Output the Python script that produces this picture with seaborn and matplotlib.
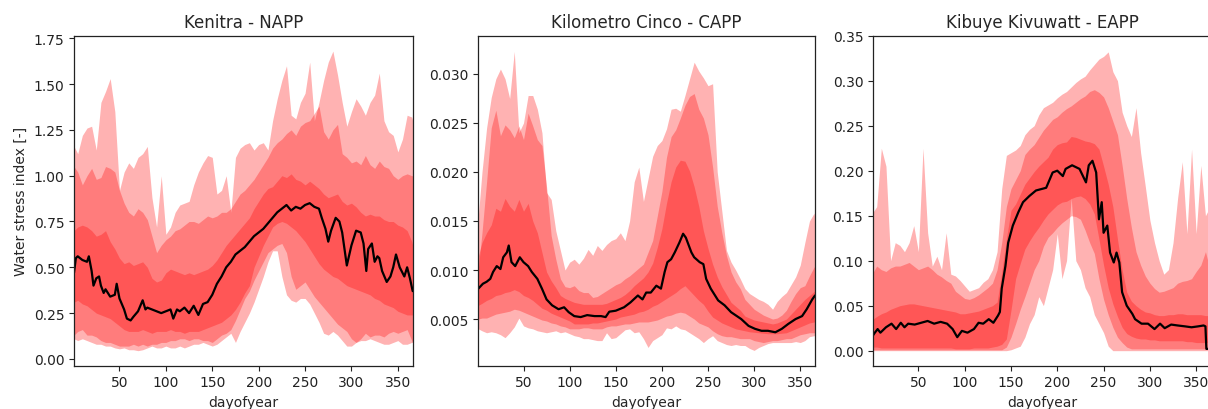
import matplotlib
matplotlib.use("Agg")
import matplotlib.pyplot as plt
import seaborn as sns
from matplotlib.ticker import FormatStrFormatter

# ---------------- data ----------------
band_days = [1] + list(range(5, 366, 5)) + [366]

# Kenitra - NAPP
kenitra_outer_high = [1.16,1.12,1.22,1.26,1.27,1.14,1.40,1.46,1.53,1.35,0.92,1.02,1.07,1.04,1.10,
                      1.12,1.16,0.88,0.72,1.00,0.68,0.72,0.80,0.84,0.85,0.86,0.95,1.02,1.07,1.11,
                      1.10,0.90,0.92,1.00,0.80,1.10,1.15,1.17,1.18,1.14,1.17,1.18,1.14,1.30,1.42,
                      1.52,1.60,1.33,1.31,1.40,1.45,1.62,1.30,1.40,1.52,1.62,1.68,1.55,1.40,1.27,
                      1.35,1.42,1.38,1.33,1.40,1.44,1.56,1.30,1.24,1.22,1.13,1.20,1.33,1.32,1.30]
kenitra_mid_high = [1.05,1.02,0.95,1.00,1.04,0.98,0.99,1.05,1.04,1.02,0.92,0.85,0.80,0.78,0.82,
                    0.80,0.76,0.67,0.58,0.62,0.65,0.67,0.70,0.71,0.73,0.75,0.75,0.74,0.76,0.78,
                    0.77,0.78,0.80,0.80,0.82,0.86,0.90,0.92,0.95,0.98,1.02,1.06,1.10,1.15,1.18,
                    1.20,1.23,1.25,1.22,1.27,1.29,1.30,1.34,1.38,1.24,1.20,1.25,1.28,1.12,1.10,
                    1.07,1.08,1.06,1.11,1.06,1.04,1.08,1.05,1.04,1.00,0.98,1.00,1.01,1.00,1.00]
kenitra_inner_high = [0.70,0.72,0.73,0.72,0.70,0.67,0.68,0.70,0.64,0.60,0.55,0.52,0.53,0.51,0.52,
                      0.53,0.50,0.44,0.42,0.43,0.47,0.49,0.48,0.47,0.46,0.47,0.46,0.47,0.48,0.49,
                      0.51,0.54,0.58,0.62,0.65,0.68,0.71,0.74,0.77,0.82,0.86,0.90,0.93,0.94,0.97,
                      1.00,0.99,1.01,0.98,0.97,0.95,0.97,0.95,0.93,0.90,0.88,0.89,0.90,0.86,0.84,
                      0.85,0.83,0.80,0.78,0.79,0.78,0.78,0.76,0.75,0.75,0.73,0.72,0.70,0.64,0.62]
kenitra_inner_low = [0.31,0.32,0.30,0.29,0.27,0.25,0.24,0.23,0.22,0.20,0.18,0.16,0.15,0.15,0.15,
                     0.16,0.15,0.14,0.15,0.15,0.15,0.16,0.15,0.15,0.14,0.15,0.15,0.15,0.16,0.17,
                     0.18,0.19,0.20,0.22,0.24,0.27,0.31,0.36,0.40,0.50,0.56,0.62,0.67,0.72,0.74,
                     0.75,0.74,0.72,0.70,0.67,0.64,0.60,0.56,0.52,0.49,0.47,0.45,0.44,0.42,0.40,
                     0.39,0.38,0.37,0.36,0.35,0.33,0.32,0.30,0.29,0.28,0.26,0.25,0.24,0.24,0.24]
kenitra_mid_low = [0.13,0.15,0.16,0.13,0.13,0.12,0.10,0.09,0.09,0.08,0.07,0.07,0.07,0.08,0.07,
                   0.08,0.07,0.08,0.08,0.09,0.09,0.10,0.10,0.11,0.11,0.10,0.11,0.11,0.10,0.10,
                   0.09,0.11,0.13,0.14,0.16,0.21,0.27,0.33,0.37,0.43,0.48,0.53,0.58,0.60,0.62,
                   0.63,0.58,0.45,0.38,0.40,0.42,0.38,0.34,0.31,0.28,0.25,0.22,0.19,0.17,0.15,
                   0.11,0.09,0.11,0.14,0.12,0.13,0.13,0.12,0.14,0.15,0.14,0.15,0.16,0.10,0.09]
kenitra_outer_low = [0.11,0.10,0.11,0.10,0.09,0.08,0.08,0.07,0.07,0.06,0.055,0.06,0.05,0.05,0.045,
                     0.05,0.06,0.07,0.06,0.06,0.07,0.06,0.06,0.07,0.06,0.07,0.08,0.08,0.09,0.08,
                     0.07,0.08,0.10,0.12,0.14,0.09,0.15,0.20,0.25,0.31,0.38,0.45,0.53,0.59,0.59,
                     0.45,0.35,0.32,0.31,0.33,0.33,0.30,0.25,0.20,0.14,0.13,0.15,0.13,0.10,0.07,
                     0.07,0.09,0.10,0.10,0.11,0.10,0.09,0.08,0.08,0.09,0.10,0.08,0.08,0.09,0.09]
kenitra_median_days = [1,3,5,10,15,17,20,22,25,28,30,33,35,40,45,47,50,55,58,62,
                       65,70,75,78,80,85,90,95,100,105,108,112,115,120,125,130,135,140,145,150,
                       155,160,165,170,175,180,185,190,195,200,205,210,215,220,225,230,235,240,245,250,
                       255,260,265,268,272,275,278,283,287,290,295,300,305,310,313,316,318,322,325,328,
                       330,333,338,342,345,348,352,357,360,363,366]
kenitra_median = [0.47,0.55,0.56,0.54,0.53,0.56,0.48,0.40,0.44,0.45,0.40,0.36,0.38,0.34,0.35,0.41,0.33,0.27,0.22,0.21,
                  0.23,0.26,0.32,0.27,0.28,0.27,0.26,0.25,0.26,0.27,0.22,0.27,0.26,0.28,0.25,0.29,0.24,0.30,0.31,0.35,
                  0.41,0.45,0.50,0.53,0.57,0.59,0.61,0.64,0.67,0.69,0.71,0.74,0.77,0.80,0.82,0.84,0.81,0.83,0.82,0.84,
                  0.85,0.83,0.82,0.77,0.71,0.64,0.70,0.77,0.75,0.69,0.51,0.62,0.70,0.69,0.63,0.48,0.60,0.63,0.53,0.56,
                  0.55,0.48,0.42,0.45,0.50,0.57,0.50,0.45,0.50,0.44,0.37]
kenitra_yticks = [0.00,0.25,0.50,0.75,1.00,1.25,1.50,1.75]

# Kilometro Cinco - CAPP
cinco_outer_high = [0.0155,0.0200,0.0245,0.0276,0.0295,0.0305,0.0295,0.0275,0.0323,0.0240,0.0250,0.0278,0.0278,0.0264,0.0240,
                    0.0179,0.0172,0.0140,0.0120,0.0100,0.0108,0.0111,0.0106,0.0112,0.0121,0.0115,0.0125,0.0120,0.0126,0.0130,
                    0.0132,0.0138,0.0130,0.0150,0.0190,0.0205,0.0170,0.0193,0.0216,0.0227,0.0232,0.0244,0.0264,0.0265,0.0262,
                    0.0278,0.0295,0.0312,0.0303,0.0296,0.0288,0.0290,0.0200,0.0160,0.0120,0.0108,0.0100,0.0091,0.0081,0.0076,
                    0.0073,0.0070,0.0068,0.0065,0.0060,0.0068,0.0073,0.0077,0.0085,0.0093,0.0105,0.0128,0.0150,0.0158,0.0152]
cinco_mid_high = [0.0101,0.0138,0.0190,0.0245,0.0263,0.0237,0.0248,0.0243,0.0235,0.0247,0.0233,0.0260,0.0247,0.0233,0.0227,
                  0.0185,0.0135,0.0111,0.0091,0.0083,0.0082,0.0084,0.0079,0.0077,0.0077,0.0072,0.0073,0.0076,0.0079,0.0082,
                  0.0085,0.0087,0.0091,0.0094,0.0098,0.0102,0.0106,0.0118,0.0130,0.0155,0.0180,0.0215,0.0236,0.0243,0.0255,
                  0.0268,0.0277,0.0280,0.0264,0.0255,0.0238,0.0205,0.0165,0.0138,0.0115,0.0098,0.0088,0.0081,0.0070,0.0065,
                  0.0060,0.0057,0.0054,0.0052,0.0050,0.0051,0.0054,0.0059,0.0068,0.0076,0.0082,0.0084,0.0094,0.0103,0.0104]
cinco_inner_high = [0.0114,0.0128,0.0138,0.0146,0.0163,0.0160,0.0173,0.0165,0.0160,0.0172,0.0160,0.0168,0.0150,0.0138,0.0118,
                    0.0098,0.0089,0.0082,0.0074,0.0071,0.0069,0.0067,0.0066,0.0065,0.0065,0.0065,0.0065,0.0065,0.0066,0.0068,
                    0.0070,0.0072,0.0075,0.0079,0.0084,0.0088,0.0092,0.0098,0.0107,0.0123,0.0142,0.0168,0.0190,0.0205,0.0212,
                    0.0211,0.0201,0.0185,0.0165,0.0140,0.0122,0.0106,0.0093,0.0083,0.0075,0.0067,0.0063,0.0059,0.0053,0.0051,
                    0.0049,0.0048,0.0047,0.0046,0.0045,0.0046,0.0048,0.0050,0.0055,0.0060,0.0065,0.0070,0.0074,0.0078,0.0079]
cinco_inner_low = [0.0064,0.0066,0.0069,0.0071,0.0074,0.0075,0.0077,0.0078,0.0080,0.0078,0.0074,0.0072,0.0069,0.0065,0.0061,
                   0.0059,0.0056,0.0054,0.0052,0.0050,0.0048,0.0045,0.0045,0.0045,0.0045,0.0046,0.0046,0.0047,0.0048,0.0049,
                   0.0050,0.0052,0.0053,0.0054,0.0055,0.0057,0.0058,0.0060,0.0063,0.0065,0.0068,0.0071,0.0074,0.0077,0.0081,
                   0.0084,0.0079,0.0074,0.0069,0.0065,0.0058,0.0052,0.0049,0.0046,0.0044,0.0042,0.0040,0.0039,0.0038,0.0037,
                   0.00365,0.0036,0.00355,0.0035,0.0035,0.0035,0.00355,0.0036,0.0038,0.0040,0.0042,0.0044,0.0046,0.0047,0.0047]
cinco_mid_low = [0.0050,0.0051,0.0051,0.0053,0.0055,0.0056,0.0057,0.0058,0.0060,0.0059,0.0057,0.0055,0.0053,0.0051,0.0049,
                 0.0048,0.0046,0.0045,0.0043,0.0042,0.0040,0.0040,0.0040,0.0041,0.0041,0.0040,0.0040,0.0040,0.0042,0.0043,
                 0.0043,0.0044,0.0045,0.0045,0.0046,0.0047,0.0047,0.0047,0.0048,0.0049,0.0051,0.0053,0.0054,0.0056,0.0057,
                 0.0056,0.0053,0.0050,0.0046,0.0044,0.0042,0.0038,0.0035,0.0033,0.0032,0.0032,0.0031,0.0030,0.0030,0.0030,
                 0.0028,0.0027,0.0026,0.0027,0.0028,0.0028,0.0029,0.0030,0.0030,0.0032,0.0034,0.0035,0.0036,0.0036,0.0036]
cinco_outer_low = [0.0040,0.0038,0.0036,0.0037,0.0036,0.0034,0.0031,0.0036,0.0042,0.0051,0.0043,0.0041,0.0040,0.0038,0.0037,
                   0.0036,0.0037,0.0038,0.0036,0.0037,0.0035,0.0033,0.0032,0.0030,0.0030,0.0029,0.0028,0.0028,0.0036,0.0030,
                   0.0031,0.0035,0.0039,0.0040,0.0036,0.0037,0.0030,0.0021,0.0028,0.0031,0.0034,0.0041,0.0040,0.0043,0.0040,
                   0.0039,0.0036,0.0033,0.0030,0.0026,0.0030,0.0033,0.0028,0.0026,0.0024,0.0023,0.0024,0.0023,0.0023,0.0020,
                   0.0018,0.0021,0.0023,0.0025,0.0026,0.0026,0.0026,0.0026,0.0026,0.0027,0.0026,0.0028,0.0032,0.0033,0.0033]
cinco_median_days = [1,6,10,14,17,21,25,28,32,34,37,41,46,50,55,59,65,70,75,81,
                     88,94,99,105,112,119,127,134,139,143,150,159,166,174,179,183,188,194,199,203,
                     206,210,214,219,223,226,232,235,241,245,248,253,261,268,275,286,294,301,308,315,
                     323,330,337,345,352,357,363,366]
cinco_median = [0.0081,0.0086,0.0088,0.0091,0.0098,0.0104,0.0101,0.0113,0.0118,0.0125,
                0.0108,0.0104,0.0113,0.0108,0.0104,0.0098,0.0091,0.0081,0.0070,0.0064,
                0.0060,0.0062,0.0057,0.0053,0.0052,0.0054,0.0053,0.0053,0.0052,0.00575,
                0.00585,0.0062,0.0067,0.0074,0.0070,0.0077,0.0077,0.0084,0.0081,0.0098,
                0.0108,0.0111,0.0118,0.0128,0.0137,0.0133,0.0118,0.0113,0.0108,0.0106,
                0.0091,0.0081,0.0069,0.0064,0.0057,0.0050,0.0043,0.0040,0.0038,0.0038,
                0.00365,0.0040,0.0045,0.0050,0.0053,0.0060,0.0070,0.0074]
cinco_yticks = [0.005,0.010,0.015,0.020,0.025,0.030]

# Kibuye Kivuwatt - EAPP
kibuye_outer_high = [0.154,0.160,0.225,0.205,0.100,0.120,0.117,0.110,0.120,0.139,0.110,0.225,0.131,0.094,0.105,
                     0.090,0.131,0.085,0.083,0.078,0.072,0.066,0.068,0.070,0.076,0.080,0.090,0.110,0.180,0.217,
                     0.220,0.223,0.228,0.240,0.246,0.250,0.262,0.270,0.273,0.276,0.281,0.285,0.288,0.293,0.298,
                     0.302,0.305,0.312,0.318,0.324,0.327,0.332,0.310,0.300,0.265,0.250,0.238,0.270,0.220,0.183,
                     0.145,0.120,0.100,0.085,0.090,0.120,0.170,0.210,0.130,0.224,0.130,0.206,0.150,0.160,0.160]
kibuye_mid_high = [0.087,0.094,0.090,0.088,0.092,0.094,0.094,0.096,0.098,0.094,0.090,0.092,0.094,0.090,0.085,
                   0.082,0.078,0.075,0.066,0.062,0.058,0.057,0.059,0.062,0.066,0.070,0.075,0.090,0.120,0.160,
                   0.180,0.190,0.200,0.218,0.224,0.229,0.237,0.245,0.251,0.257,0.260,0.265,0.269,0.272,0.276,
                   0.280,0.283,0.288,0.290,0.287,0.282,0.270,0.255,0.240,0.206,0.169,0.137,0.110,0.095,0.083,
                   0.075,0.069,0.065,0.066,0.068,0.070,0.075,0.077,0.078,0.080,0.088,0.095,0.110,0.090,0.087]
kibuye_inner_high = [0.035,0.038,0.041,0.043,0.046,0.048,0.050,0.051,0.052,0.052,0.051,0.050,0.049,0.048,0.047,
                     0.046,0.045,0.044,0.043,0.041,0.041,0.042,0.043,0.044,0.046,0.048,0.050,0.054,0.087,0.124,
                     0.156,0.163,0.174,0.185,0.192,0.199,0.205,0.210,0.215,0.224,0.229,0.231,0.232,0.238,0.237,
                     0.235,0.233,0.232,0.230,0.224,0.205,0.185,0.160,0.124,0.090,0.065,0.055,0.050,0.046,0.043,
                     0.042,0.040,0.039,0.039,0.040,0.040,0.041,0.041,0.040,0.040,0.040,0.040,0.039,0.039,0.039]
kibuye_inner_low = [0.004,0.004,0.003,0.003,0.003,0.003,0.003,0.003,0.003,0.003,0.003,0.003,0.003,0.003,0.003,
                    0.003,0.003,0.003,0.002,0.002,0.002,0.002,0.003,0.003,0.003,0.003,0.004,0.005,0.007,0.013,
                    0.045,0.080,0.097,0.113,0.122,0.130,0.137,0.145,0.152,0.157,0.162,0.165,0.166,0.169,0.171,
                    0.172,0.169,0.163,0.152,0.124,0.095,0.070,0.052,0.038,0.026,0.019,0.016,0.014,0.013,0.013,
                    0.012,0.012,0.011,0.011,0.011,0.011,0.011,0.011,0.010,0.010,0.009,0.009,0.009,0.009,0.009]
kibuye_mid_low = [0.001,0.001,0.001,0.001,0.001,0.001,0.001,0.001,0.001,0.001,0.001,0.001,0.001,0.001,0.001,
                  0.001,0.001,0.001,0.001,0.001,0.001,0.001,0.001,0.001,0.001,0.001,0.001,0.001,0.001,0.004,
                  0.015,0.030,0.046,0.060,0.075,0.090,0.100,0.116,0.126,0.131,0.137,0.142,0.146,0.150,0.149,
                  0.146,0.134,0.120,0.108,0.080,0.057,0.040,0.026,0.015,0.009,0.004,0.002,0.002,0.002,0.002,
                  0.002,0.002,0.002,0.002,0.002,0.002,0.002,0.002,0.002,0.002,0.002,0.002,0.002,0.002,0.002]
kibuye_outer_low = [0.0,0.0,0.0,0.0,0.0,0.0,0.0,0.0,0.0,0.0,0.0,0.0,0.0,0.0,0.0,
                    0.0,0.0,0.0,0.0,0.0,0.0,0.0,0.0,0.0,0.0,0.0,0.0,0.0,0.0,0.0,
                    0.001,0.003,0.005,0.015,0.030,0.040,0.060,0.050,0.070,0.090,0.130,0.080,0.100,0.170,0.100,
                    0.090,0.070,0.060,0.040,0.030,0.020,0.005,0.0,0.0,0.0,0.0,0.0,0.0,0.0,0.0,
                    0.0,0.0,0.0,0.0,0.0,0.0,0.0,0.0,0.0,0.0,0.0,0.0,0.0,0.0,0.0]
kibuye_median_days = [1,3,6,9,15,21,26,31,35,39,46,53,60,67,74,81,87,92,97,103,
                      110,115,120,126,131,136,138,140,144,147,152,158,163,170,177,188,195,200,206,209,
                      216,224,231,234,238,242,245,248,250,254,257,261,264,267,270,275,281,284,291,298,
                      305,311,316,323,330,338,345,352,358,360,361,366]
kibuye_median = [0.017,0.020,0.024,0.020,0.026,0.030,0.024,0.031,0.026,0.030,
                 0.029,0.031,0.033,0.030,0.032,0.030,0.024,0.015,0.022,0.020,
                 0.024,0.031,0.030,0.035,0.031,0.039,0.043,0.069,0.094,0.120,
                 0.139,0.154,0.165,0.172,0.178,0.181,0.198,0.200,0.194,0.202,
                 0.206,0.202,0.187,0.206,0.211,0.198,0.146,0.165,0.131,0.139,
                 0.109,0.098,0.109,0.098,0.065,0.050,0.041,0.035,0.030,0.030,
                 0.024,0.030,0.025,0.029,0.028,0.027,0.026,0.027,0.028,0.027,
                 0.002,0.002]
kibuye_yticks = [0.00,0.05,0.10,0.15,0.20,0.25,0.30,0.35]

xticks = [50, 100, 150, 200, 250, 300, 350]

# ---------------- plot ----------------
sns.set_style("ticks")
plt.rcParams['font.family'] = ['DejaVu Sans']
plt.rcParams['axes.edgecolor'] = '#222222'

W, H = 1208, 410
fig = plt.figure(figsize=(W / 100, H / 100), dpi=100)

panels = [
    dict(title="Kenitra - NAPP", left=74, width=338.7,
         bands=[(kenitra_outer_low, kenitra_outer_high), (kenitra_mid_low, kenitra_mid_high),
                (kenitra_inner_low, kenitra_inner_high)],
         mdays=kenitra_median_days, med=kenitra_median, ylim=(-0.037, 1.764),
         yticks=kenitra_yticks, fmt='%.2f', ylabel="Water stress index [-]"),
    dict(title="Kilometro Cinco - CAPP", left=478.3, width=336.7,
         bands=[(cinco_outer_low, cinco_outer_high), (cinco_mid_low, cinco_mid_high),
                (cinco_inner_low, cinco_inner_high)],
         mdays=cinco_median_days, med=cinco_median, ylim=(0.00024, 0.0339),
         yticks=cinco_yticks, fmt='%.3f', ylabel=None),
    dict(title="Kibuye Kivuwatt - EAPP", left=873, width=338,
         bands=[(kibuye_outer_low, kibuye_outer_high), (kibuye_mid_low, kibuye_mid_high),
                (kibuye_inner_low, kibuye_inner_high)],
         mdays=kibuye_median_days, med=kibuye_median, ylim=(-0.0167, 0.35),
         yticks=kibuye_yticks, fmt='%.2f', ylabel=None),
]

bottom = 1 - 366.7 / H
height = 330.0 / H

for p in panels:
    ax = fig.add_axes([p['left'] / W, bottom, p['width'] / W, height])
    for lo, hi in p['bands']:
        assert len(lo) == len(band_days) and len(hi) == len(band_days)
        ax.fill_between(band_days, lo, hi, color='red', alpha=0.3, linewidth=0)
    assert len(p['mdays']) == len(p['med'])
    sns.lineplot(x=p['mdays'], y=p['med'], color='black', linewidth=1.6, ax=ax)
    ax.set_xlim(1, 366)
    ax.set_ylim(*p['ylim'])
    ax.set_xticks(xticks)
    ax.set_yticks(p['yticks'])
    ax.yaxis.set_major_formatter(FormatStrFormatter(p['fmt']))
    ax.set_title(p['title'], fontsize=12)
    ax.set_xlabel("dayofyear", fontsize=10)
    if p['ylabel']:
        ax.set_ylabel(p['ylabel'], fontsize=10)
    ax.tick_params(labelsize=10, length=3.5, width=0.8, colors='#222222')
    for s in ax.spines.values():
        s.set_linewidth(0.9)

fig.savefig("out.png", dpi=100)
